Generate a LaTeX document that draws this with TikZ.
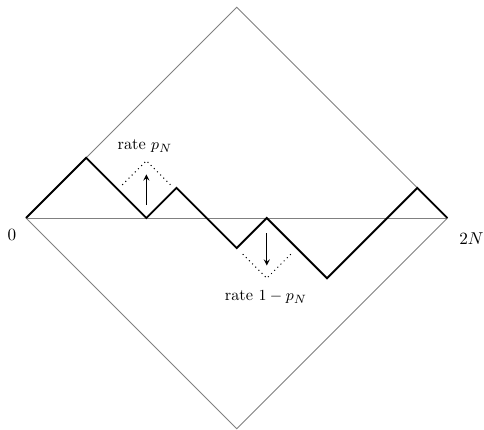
\documentclass[tikz,border=0pt]{standalone}
\usepackage{amsmath,amssymb}
\usepackage{tikz}

\begin{document}
\begin{tikzpicture}[x=0.616cm, y=0.616cm,
  frame/.style={gray, line width=0.5pt},
  walk/.style={black, line width=1.1pt, line join=miter},
  flip/.style={black, dotted, line width=0.6pt},
  move/.style={black, line width=0.6pt, -stealth},
  ratelabel/.style={font=\fontsize{9.5}{11}\selectfont, inner sep=0pt}]
\useasboundingbox (-0.864,-7.043) rectangle (15.216,7.243);

% corners of the square
\coordinate (left) at (0,0);
\coordinate (top) at (7,7);
\coordinate (right) at (14,0);
\coordinate (bottom) at (7,-7);

\draw[frame] (left) -- (top) -- (right) -- (bottom) -- cycle;
\draw[frame] (left) -- (right);

\path (-0.47,-0.55) node (zero) {$0$};
\path (14.8,-0.68) node[inner sep=1pt] (twoN) {$2N$};

% the path
\draw[walk] (left) -- (2,2) -- (4,0) -- (5,1) -- (7,-1) -- (8,0) -- (10,-2) -- (13,1) -- (right);

% flips
\draw[flip] (3.2,1.1) -- (4,1.9) -- (4.8,1.1);
\draw[flip] (7.2,-1.2) -- (8,-2) -- (8.8,-1.2);

\coordinate (upfrom) at (4,0.43);
\coordinate (upto) at (4,1.45);
\coordinate (downfrom) at (8,-0.5);
\coordinate (downto) at (8,-1.58);
\draw[move] (upfrom) -- (upto);
\draw[move] (downfrom) -- (downto);

\path (3.95,2.4) node[ratelabel] (rateup) {rate $p_N$};
\path (7.97,-2.62) node[ratelabel] (ratedown) {rate $1-p_N$};
\end{tikzpicture}
\end{document}
